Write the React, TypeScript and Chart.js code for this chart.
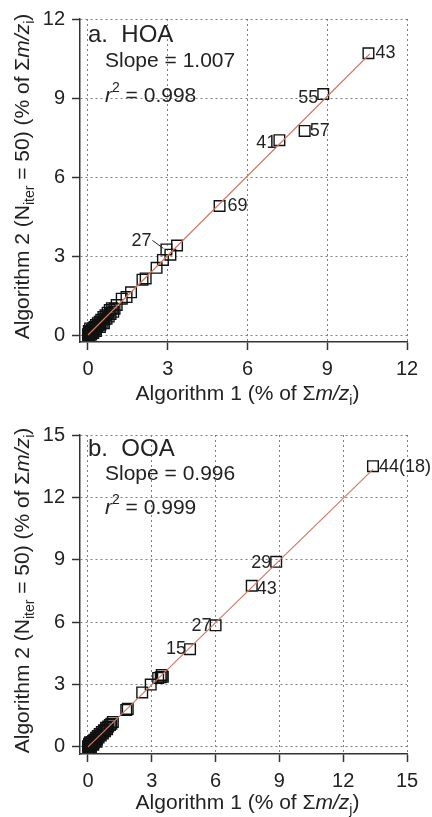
import React, { useEffect, useRef } from "react";
import { Chart, registerables } from "chart.js";
Chart.register(...registerables);

const FONT = '"Liberation Sans", Arial, Helvetica, sans-serif';
const INK = "#222";

// ---------- Panel a: HOA ----------
const hoaX = [10.55, 8.85, 8.15, 7.2, 4.95, 2.95,
  3.35, 3.1, 2.82, 2.58, 2.17, 2.05, 1.62, 1.45, 1.27, 1.08, 1.0, 0.95, 0.9, 0.85, 0.82, 0.78, 0.74, 0.7, 0.66,
  0.62, 0.58, 0.55, 0.5, 0.47, 0.44, 0.4, 0.37, 0.34, 0.3, 0.28, 0.25, 0.22, 0.2, 0.18, 0.15, 0.13, 0.11, 0.09,
  0.07, 0.05, 0.04, 0.03, 0.02, 0.01, 0.0, 0.06, 0.12, 0.2, 0.3, 0.45, 0.6, 0.03, 0.08];
const hoaY = [10.7, 9.15, 7.75, 7.4, 4.9, 3.25,
  3.4, 3.05, 2.85, 2.55, 2.15, 2.1, 1.62, 1.44, 1.38, 1.14, 1.0, 0.88, 1.02, 0.8, 0.95, 0.7, 0.85, 0.62, 0.75,
  0.6, 0.68, 0.5, 0.58, 0.4, 0.5, 0.36, 0.45, 0.3, 0.38, 0.22, 0.3, 0.18, 0.26, 0.12, 0.2, 0.08, 0.14, 0.05,
  0.1, 0.03, 0.07, 0.01, 0.04, 0.0, 0.02, 0.0, 0.02, 0.08, 0.15, 0.3, 0.45, 0.15, 0.25];
const hoaFitX = [0, 10.6];
const hoaFitY = [0, 10.67];
const hoaTicks = [0, 3, 6, 9, 12];
const hoaLabelIndex = [0, 1, 2, 3, 4, 5];
const hoaLabelNames = ["43", "55", "57", "41", "69", "27"];

// ---------- Panel b: OOA ----------
const ooaX = [13.4, 8.85, 7.7, 6.0, 4.8,
  3.47, 3.42, 3.3, 3.52, 2.95, 2.55, 1.87, 1.8, 1.17, 1.1, 1.03, 0.95, 0.9, 0.85, 0.8, 0.75, 0.7, 0.65, 0.6,
  0.55, 0.5, 0.46, 0.42, 0.38, 0.34, 0.3, 0.27, 0.24, 0.2, 0.18, 0.15, 0.12, 0.1, 0.08, 0.06, 0.04, 0.02,
  0.01, 0.0, 0.05, 0.1, 0.14, 0.25, 0.4];
const ooaY = [13.5, 8.9, 7.75, 5.85, 4.7,
  3.46, 3.35, 3.32, 3.38, 3.0, 2.62, 1.83, 1.78, 1.2, 1.12, 1.06, 0.98, 0.85, 0.92, 0.75, 0.8, 0.65, 0.72, 0.55,
  0.62, 0.45, 0.52, 0.36, 0.44, 0.28, 0.35, 0.2, 0.28, 0.14, 0.22, 0.08, 0.15, 0.04, 0.1, 0.02, 0.06, 0.0,
  0.03, 0.01, 0.15, 0.22, 0.0, 0.1, 0.25];
const ooaFitX = [0, 13.4];
const ooaFitY = [0, 13.35];
const ooaTicks = [0, 3, 6, 9, 12, 15];
const ooaLabelIndex = [0, 1, 2, 3, 4];
const ooaLabelNames = ["44(18)", "29", "43", "27", "15"];

// label placement (pixel offsets from the marker)
const hoaLabelPlace = [
  { dx: 7, dy: 0, align: "left" },
  { dx: -5, dy: 4, align: "right" },
  { dx: 5, dy: 0, align: "left" },
  { dx: -3, dy: 3, align: "right" },
  { dx: 8, dy: 0, align: "left" },
  { dx: -15, dy: -8, align: "right", leader: true },
];
const ooaLabelPlace = [
  { dx: 6, dy: 1, align: "left" },
  { dx: -5, dy: 1, align: "right" },
  { dx: 5, dy: 3, align: "left" },
  { dx: -4, dy: 1, align: "right" },
  { dx: -4, dy: 0, align: "right" },
];

type Seg = { t: string; italic?: boolean; sub?: boolean; sup?: boolean };

function segFont(s: Seg, size: number) {
  const sz = s.sub || s.sup ? Math.round(size * 0.68) : size;
  return `${s.italic ? "italic " : ""}${sz}px ${FONT}`;
}
function richWidth(ctx: CanvasRenderingContext2D, segs: Seg[], size: number) {
  let w = 0;
  for (const s of segs) {
    ctx.font = segFont(s, size);
    w += ctx.measureText(s.t).width;
  }
  return w;
}
function drawRich(ctx: CanvasRenderingContext2D, segs: Seg[], x: number, y: number, size: number) {
  let cx = x;
  ctx.textAlign = "left";
  ctx.textBaseline = "alphabetic";
  for (const s of segs) {
    ctx.font = segFont(s, size);
    const dy = s.sub ? size * 0.25 : s.sup ? -size * 0.5 : 0;
    ctx.fillText(s.t, cx, y + dy);
    cx += ctx.measureText(s.t).width;
  }
}

const yTitleSegs: Seg[] = [
  { t: "Algorithm 2 (N" },
  { t: "iter", sub: true },
  { t: " = 50) (% of Σ" },
  { t: "m/z", italic: true },
  { t: "i", sub: true },
  { t: ")" },
];

type PanelCfg = {
  xs: number[]; ys: number[]; fitX: number[]; fitY: number[]; ticks: number[];
  xMin: number; xMax: number; yMin: number; yMax: number;
  top: number; height: number; axisBottom: number;
  title: string; slope: string; r2: string; xSub: string;
  labelIndex: number[]; labelNames: string[]; labelPlace: any[];
  titleBase: number; slopeBase: number; r2Base: number;
};

function Panel({ cfg }: { cfg: PanelCfg }) {
  const ref = useRef<HTMLCanvasElement>(null);
  useEffect(() => {
    const annot = {
      id: "annot",
      afterDraw(chart: any) {
        const ctx: CanvasRenderingContext2D = chart.ctx;
        const a = chart.chartArea;
        const xs = chart.scales.x;
        const ys = chart.scales.y;
        ctx.save();
        ctx.fillStyle = INK;
        ctx.strokeStyle = INK;
        // y title
        const ts = 21;
        const yw = richWidth(ctx, yTitleSegs, ts);
        ctx.save();
        ctx.translate(29, (a.top + a.bottom) / 2 - 4);
        ctx.rotate(-Math.PI / 2);
        drawRich(ctx, yTitleSegs, -yw / 2, 0, ts);
        ctx.restore();
        // x title
        const xSegs: Seg[] = [
          { t: "Algorithm 1 (% of Σ" },
          { t: "m/z", italic: true },
          { t: cfg.xSub, sub: true },
          { t: ")" },
        ];
        const xw = richWidth(ctx, xSegs, ts);
        drawRich(ctx, xSegs, (a.left + a.right) / 2 + 4 - xw / 2, cfg.height - 8, ts);
        // panel title
        ctx.font = `24px ${FONT}`;
        ctx.textAlign = "left";
        ctx.fillText(cfg.title, a.left + 8, cfg.titleBase);
        ctx.font = `21px ${FONT}`;
        ctx.fillText(cfg.slope, a.left + 25, cfg.slopeBase);
        drawRich(ctx, [{ t: "r", italic: true }, { t: "2", sup: true }, { t: " = " + cfg.r2 }], a.left + 25, cfg.r2Base, 21);
        // point labels
        ctx.font = `18px ${FONT}`;
        ctx.textBaseline = "middle";
        cfg.labelIndex.forEach((idx, k) => {
          const px = xs.getPixelForValue(cfg.xs[idx]);
          const py = ys.getPixelForValue(cfg.ys[idx]);
          const p = cfg.labelPlace[k];
          ctx.textAlign = p.align;
          ctx.fillText(cfg.labelNames[k], px + p.dx, py + p.dy);
          if (p.leader) {
            ctx.lineWidth = 1;
            ctx.beginPath();
            ctx.moveTo(px + p.dx + 1, py + p.dy - 1);
            ctx.lineTo(px - 3, py - 1);
            ctx.stroke();
          }
        });
        ctx.restore();
      },
    };

    const scaleCommon = (min: number, max: number) => ({
      type: "linear" as const,
      min,
      max,
      afterBuildTicks: (s: any) => {
        s.ticks = cfg.ticks.map((v) => ({ value: v }));
      },
      grid: {
        color: "#808080",
        lineWidth: 1,
        drawTicks: true,
        tickLength: 8,
        tickColor: "#333",
        tickWidth: 1.5,
        tickBorderDash: [],
      },
      border: { display: true, color: "#333", width: 1.5, dash: [2, 3] },
      ticks: { color: INK, font: { family: FONT, size: 20 }, padding: 7 },
    });

    const chart = new Chart(ref.current!, {
      type: "scatter",
      data: {
        datasets: [
          {
            type: "line",
            data: cfg.fitX.map((x, i) => ({ x, y: cfg.fitY[i] })),
            borderColor: "#cf7b66",
            borderWidth: 1.2,
            pointRadius: 0,
            fill: false,
          } as any,
          {
            data: cfg.xs.map((x, i) => ({ x, y: cfg.ys[i] })),
            pointStyle: "rect",
            pointRadius: 7.5,
            pointBorderWidth: 1.4,
            pointBorderColor: "#111",
            pointBackgroundColor: "rgba(0,0,0,0)",
            showLine: false,
          },
        ],
      },
      options: {
        responsive: false,
        animation: false,
        devicePixelRatio: 1,
        layout: { padding: { left: 0, right: 25, top: cfg.top, bottom: 0 } },
        plugins: { legend: { display: false }, tooltip: { enabled: false } },
        scales: {
          x: {
            ...scaleCommon(cfg.xMin, cfg.xMax),
            position: "bottom",
            afterFit: (s: any) => {
              s.height = cfg.height - cfg.axisBottom;
            },
          },
          y: {
            ...scaleCommon(cfg.yMin, cfg.yMax),
            position: "left",
            afterFit: (s: any) => {
              s.width = 80;
            },
          },
        },
      } as any,
      plugins: [annot],
    });
    return () => chart.destroy();
  }, []);
  return (
    <canvas
      ref={ref}
      width={432}
      height={cfg.height}
      style={{ display: "block", width: 432, height: cfg.height }}
    />
  );
}

const hoaCfg: PanelCfg = {
  xs: hoaX, ys: hoaY, fitX: hoaFitX, fitY: hoaFitY, ticks: hoaTicks,
  xMin: -0.3, xMax: 12, yMin: -0.265, yMax: 12,
  top: 18, height: 408, axisBottom: 342,
  title: "a.  HOA", slope: "Slope = 1.007", r2: "0.998", xSub: "i",
  labelIndex: hoaLabelIndex, labelNames: hoaLabelNames, labelPlace: hoaLabelPlace,
  titleBase: 42, slopeBase: 67, r2Base: 102,
};
const ooaCfg: PanelCfg = {
  xs: ooaX, ys: ooaY, fitX: ooaFitX, fitY: ooaFitY, ticks: ooaTicks,
  xMin: -0.375, xMax: 15, yMin: -0.34, yMax: 15,
  top: 27, height: 409, axisBottom: 346,
  title: "b.  OOA", slope: "Slope = 0.996", r2: "0.999", xSub: "j",
  labelIndex: ooaLabelIndex, labelNames: ooaLabelNames, labelPlace: ooaLabelPlace,
  titleBase: 48, slopeBase: 72, r2Base: 106,
};

export default function App() {
  return (
    <div style={{ position: "fixed", left: 0, top: 0, width: 432, height: 817, background: "#fff" }}>
      <Panel cfg={hoaCfg} />
      <Panel cfg={ooaCfg} />
    </div>
  );
}
